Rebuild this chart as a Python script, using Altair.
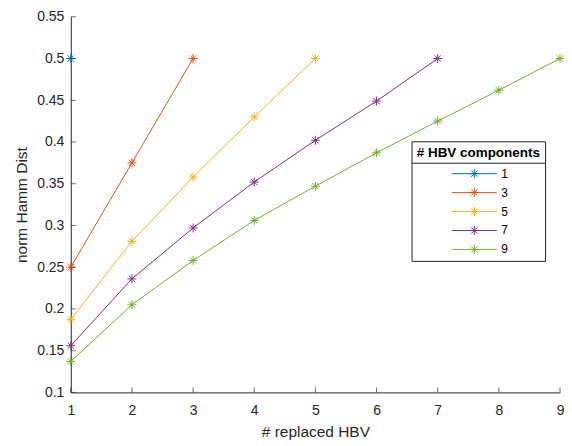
import altair as alt
import pandas as pd

# ---- data ----
groups = ["1", "3", "5", "7", "9"]
s1 = [0.5]
s3 = [0.25, 0.375, 0.5]
s5 = [0.1875, 0.281, 0.358, 0.430, 0.5]
s7 = [0.156, 0.236, 0.297, 0.352, 0.402, 0.449, 0.5]
s9 = [0.137, 0.205, 0.258, 0.306, 0.347, 0.387, 0.425, 0.462, 0.5]
colors = ["#0072BD", "#D95319", "#EDB120", "#7E2F8E", "#77AC30"]
y_ticks = [0.1, 0.15, 0.2, 0.25, 0.3, 0.35, 0.4, 0.45, 0.5, 0.55]
x_ticks = [1, 2, 3, 4, 5, 6, 7, 8, 9]

rows = []
for g, vals in zip(groups, [s1, s3, s5, s7, s9]):
    for i, v in enumerate(vals):
        rows.append({"n": i + 1, "d": v, "g": g})
df = pd.DataFrame(rows)

FONT = "Liberation Sans"
AXC = "#262626"
STAR = "M0,-1L0,1M-1,0L1,0M-0.7,-0.7L0.7,0.7M-0.7,0.7L0.7,-0.7"
LEG_SYM = "M-5,0L5,0" + STAR

W, H = 491, 377
LEG_X, LEG_Y = 342, 125

xs = alt.Scale(domain=[1, 9], nice=False, zero=False)
ys = alt.Scale(domain=[0.1, 0.55], nice=False, zero=False)
cs = alt.Scale(domain=groups, range=colors)

base = alt.Chart(df)

lines = base.mark_line(strokeWidth=1, clip=False).encode(
    x=alt.X("n:Q", scale=xs, title="# replaced HBV",
            axis=alt.Axis(values=x_ticks, format="d", grid=False, ticks=False,
                          labelFlush=False, labelPadding=11, titlePadding=7)),
    y=alt.Y("d:Q", scale=ys, title="norm Hamm Dist",
            axis=alt.Axis(values=y_ticks, format=".2~f", grid=False, ticks=False,
                          labelFlush=False, labelPadding=7, titlePadding=7)),
    color=alt.Color("g:N", scale=cs, title="# HBV components"),
)

points = base.mark_point(shape=STAR, size=81, filled=False, strokeWidth=1,
                         opacity=1, clip=False).encode(
    x=alt.X("n:Q", scale=xs),
    y=alt.Y("d:Q", scale=ys),
    color=alt.Color("g:N", scale=cs, title="# HBV components"),
)

ytk = alt.Chart(pd.DataFrame({"d": y_ticks})).mark_tick(
    color=AXC, thickness=1, size=5, orient="horizontal").encode(
    y=alt.Y("d:Q", scale=ys),
    x=alt.value(2.5),
)
xtk = alt.Chart(pd.DataFrame({"n": x_ticks})).mark_tick(
    color=AXC, thickness=1, size=5, orient="vertical").encode(
    x=alt.X("n:Q", scale=xs),
    y=alt.value(H - 2.5),
)

# legend chrome: separator line under the legend title
sep = alt.Chart(pd.DataFrame({"k": [0]})).mark_rule(
    color=AXC, strokeWidth=1).encode(
    x=alt.value(LEG_X), x2=alt.value(LEG_X + 134), y=alt.value(LEG_Y + 22),
)

chart = alt.layer(lines, points, ytk, xtk, sep).properties(
    width=W, height=H,
    autosize=alt.AutoSizeParams(type="none"),
    padding={"left": 63, "top": 8, "right": 4, "bottom": 53},
).configure_view(stroke=None).configure_axis(
    domainColor=AXC, domainWidth=1,
    labelFont=FONT, labelFontSize=14, labelColor=AXC,
    titleFont=FONT, titleFontSize=15.5, titleColor=AXC, titleFontWeight="normal",
).configure_legend(
    orient="none", legendX=LEG_X, legendY=LEG_Y,
    strokeColor=AXC, padding=5,
    titleFont=FONT, titleFontSize=13.5, titleFontWeight="bold", titleColor="black",
    titleAnchor="middle", titlePadding=8,
    labelFont=FONT, labelFontSize=12, labelColor="black",
    symbolType=LEG_SYM, symbolSize=81, symbolStrokeWidth=1,
    symbolOffset=20, labelOffset=21, rowPadding=5,
)

chart.save("out.html", embed_options={"renderer": "svg", "actions": False})
